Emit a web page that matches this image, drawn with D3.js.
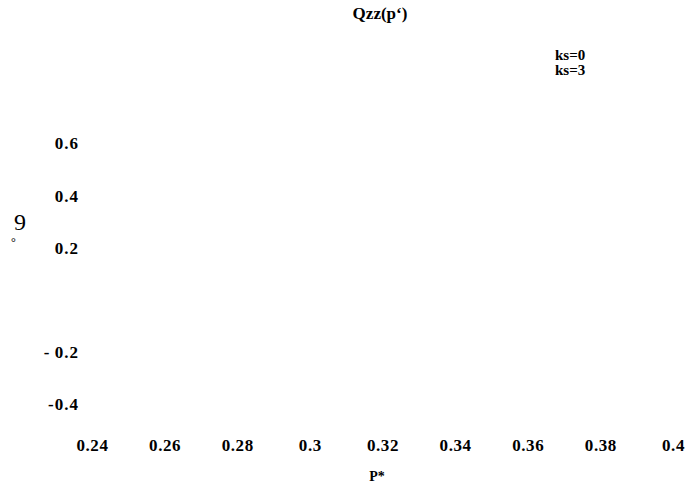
<!DOCTYPE html>
<html>
<head>
<meta charset="utf-8">
<script src="https://cdn.jsdelivr.net/npm/d3@7"></script>
<style>
  body { margin: 0; background: #fff; }
  text { font-family: "Liberation Serif", "Times New Roman", serif; font-weight: bold; fill: #000; }
</style>
</head>
<body>
<svg id="chart" width="686" height="487"></svg>
<script>
// Chart data
const xTicks = [0.24, 0.26, 0.28, 0.3, 0.32, 0.34, 0.36, 0.38, 0.4];
const yTicks = [0.6, 0.4, 0.2, -0.2, -0.4];
const yTickLabels = ["0.6", "0.4", "0.2", "-\u20090.2", "-0.4"];
const seriesNames = ["ks=0", "ks=3"];
const titleText = "Qzz(p\u2018)";
const xLabel = "P*";

const svg = d3.select("#chart"),
      width = +svg.attr("width"),
      height = +svg.attr("height");

// Scales
const xScale = d3.scaleLinear().domain([0.24, 0.4]).range([92, 673]);
const yScale = d3.scaleLinear().domain([-0.4, 0.6]).range([404, 143]);

// x axis (labels only)
const xAxis = svg.append("g")
  .attr("transform", "translate(0,439)")
  .call(d3.axisBottom(xScale).tickValues(xTicks).tickSize(0).tickFormat(d3.format("")));
xAxis.select(".domain").remove();
xAxis.selectAll("text")
  .attr("y", 0)
  .attr("dy", "0.72em")
  .style("font-size", "17px")
  .style("letter-spacing", "0.6px")
  .style("font-family", null);

// y axis (labels only)
const yAxis = svg.append("g")
  .attr("transform", "translate(79,0)")
  .call(d3.axisLeft(yScale).tickValues(yTicks).tickSize(0)
    .tickFormat((d, i) => yTickLabels[i]));
yAxis.select(".domain").remove();
yAxis.selectAll("text")
  .attr("x", 0)
  .attr("dy", "0.35em")
  .style("font-size", "17px")
  .style("letter-spacing", "1px")
  .style("font-family", null);

// Title
svg.append("text")
  .attr("x", 380)
  .attr("y", 19)
  .attr("text-anchor", "middle")
  .style("font-size", "17px")
  .text(titleText);

// Legend
svg.selectAll(".legend")
  .data(seriesNames)
  .join("text")
  .attr("class", "legend")
  .attr("x", 555)
  .attr("y", (d, i) => 60 + i * 15)
  .style("font-size", "15px")
  .text(d => d);

// x label
svg.append("text")
  .attr("x", 377)
  .attr("y", 481)
  .attr("text-anchor", "middle")
  .style("font-size", "14px")
  .text(xLabel);

// y label (garbled glyphs in the original)
svg.append("text")
  .attr("x", 14)
  .attr("y", 230)
  .style("font-size", "24px")
  .style("font-weight", "normal")
  .text("9");
svg.append("text")
  .attr("x", 11)
  .attr("y", 246)
  .style("font-size", "12px")
  .style("font-weight", "normal")
  .text("\u00b0");
</script>
</body>
</html>
